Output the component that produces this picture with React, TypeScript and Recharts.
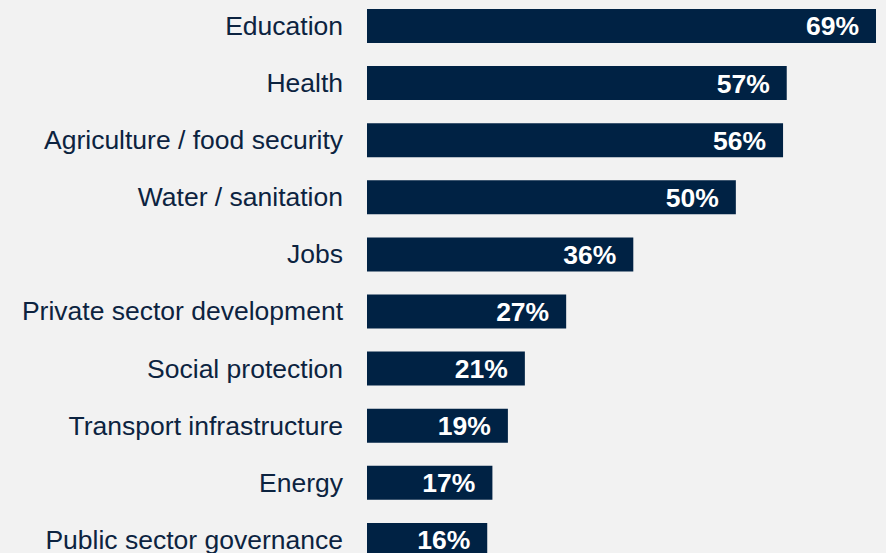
import { BarChart, Bar, XAxis, YAxis, LabelList } from 'recharts';

const categories = [
  'Education',
  'Health',
  'Agriculture / food security',
  'Water / sanitation',
  'Jobs',
  'Private sector development',
  'Social protection',
  'Transport infrastructure',
  'Energy',
  'Public sector governance',
];

// share of respondents (labels show rounded values)
const shares = [69, 56.9, 56.4, 50, 36.1, 27, 21.4, 19.1, 17, 16.3];

const data = categories.map((name, i) => ({ name, share: shares[i] }));

const NAVY = '#002244';
const FONT = '"Liberation Sans", Arial, sans-serif';

export default function App() {
  return (
    <div
      style={{
        position: 'absolute',
        left: 0,
        top: 0,
        width: 886,
        height: 553,
        overflow: 'hidden',
        background: '#f2f2f2',
        fontFamily: FONT,
      }}
    >
      <div style={{ position: 'relative', top: -3 }}>
        <BarChart
          layout="vertical"
          width={886}
          height={571}
          data={data}
          margin={{ top: 0, right: 10, bottom: 0, left: 0 }}
        >
          <XAxis type="number" hide domain={[0, 69]} />
          <YAxis
            type="category"
            dataKey="name"
            width={367}
            axisLine={false}
            tickLine={false}
            tickSize={0}
            tickMargin={24}
            interval={0}
            tick={{ fill: '#0c2340', fontSize: 26.5, fontFamily: FONT }}
          />
          <Bar dataKey="share" fill={NAVY} barSize={34} isAnimationActive={false}>
            <LabelList
              dataKey="share"
              position="insideRight"
              offset={17}
              formatter={(v: number) => `${Math.round(v)}%`}
              style={{ fill: '#ffffff', fontSize: 26.5, fontWeight: 'bold', fontFamily: FONT }}
            />
          </Bar>
        </BarChart>
      </div>
    </div>
  );
}
